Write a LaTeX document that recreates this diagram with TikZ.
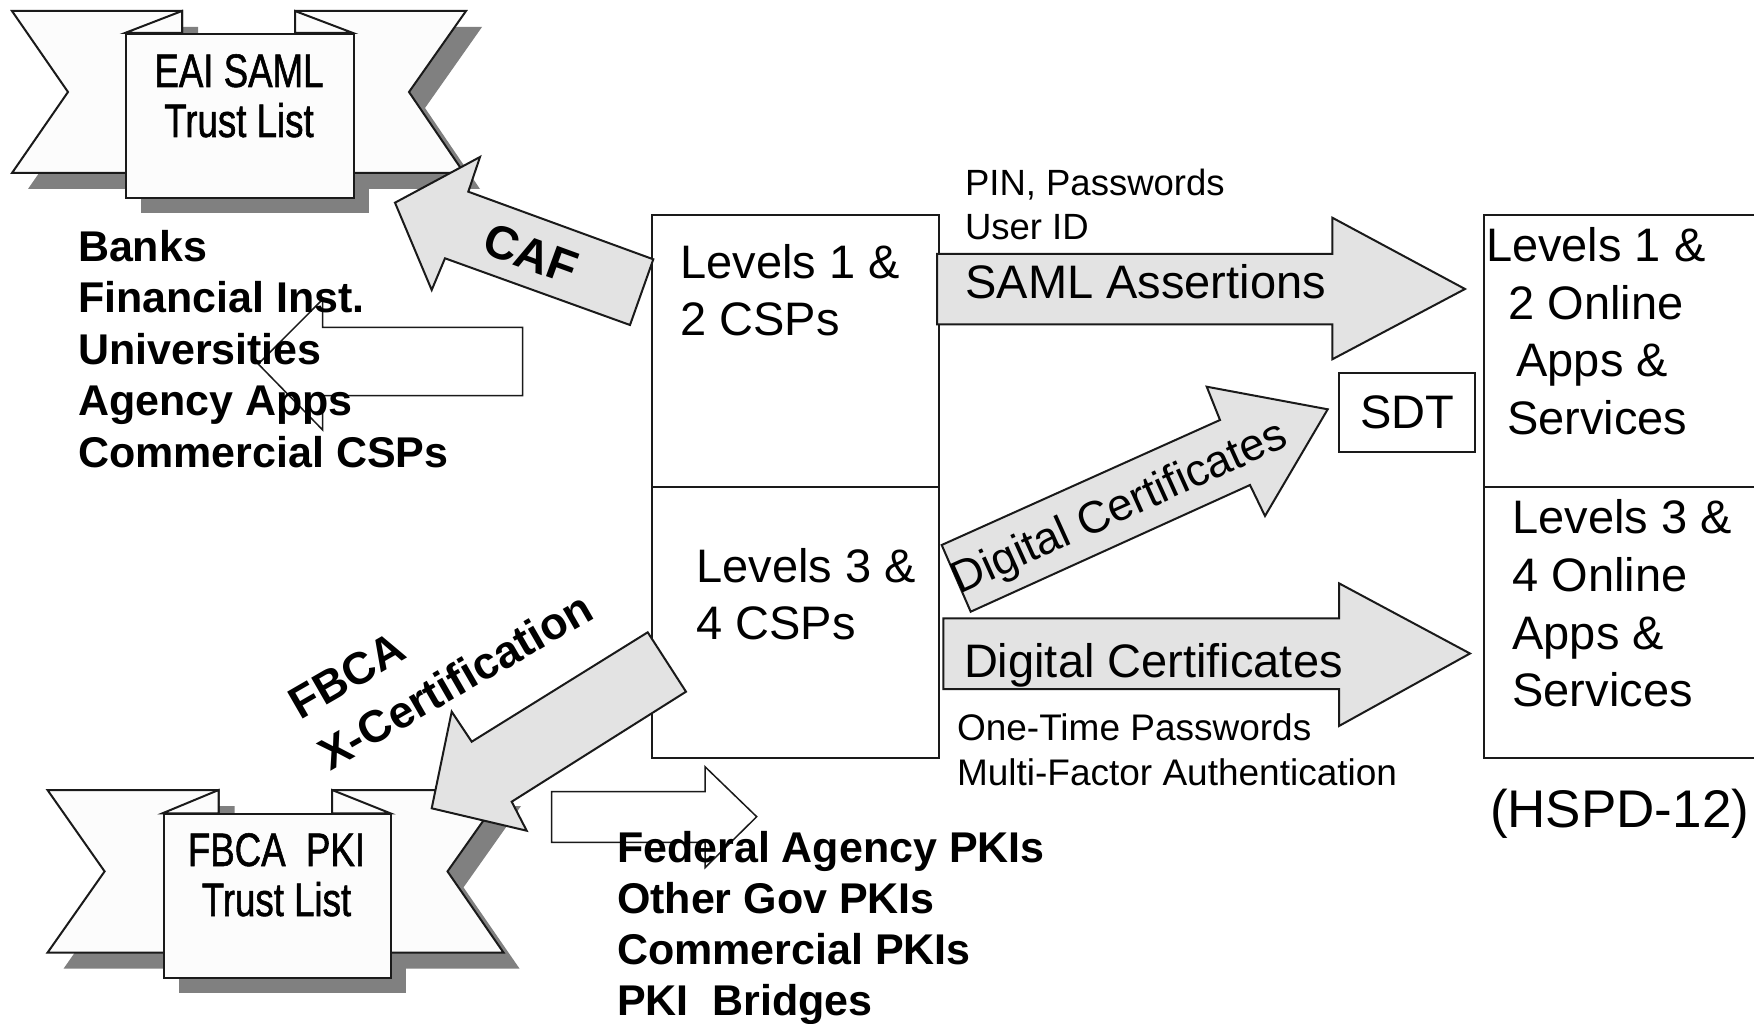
\documentclass[tikz,border=0pt]{standalone}
\usepackage{fontspec}
\setmainfont{Liberation Sans}
\newfontfamily\narrowfont[FakeStretch=0.78,FakeBold=1.2]{Liberation Sans}
\definecolor{arrowfill}{HTML}{E3E3E3}
\definecolor{shadowgray}{HTML}{808080}
\definecolor{ribbonfill}{HTML}{FCFCFC}
\definecolor{inkline}{HTML}{1A1A1A}
% multi-line label whose baseline is the baseline of its first line
\newcommand{\linestack}[2][l]{\begin{tabular}[t]{@{}#1@{}}#2\end{tabular}}
\newcommand{\sizept}[2]{\fontsize{#1}{#2}\selectfont}
\tikzset{
  txt/.style={inner sep=0pt, outer sep=0pt},
  cell/.style={draw=inkline, line width=2pt, inner sep=0pt, anchor=north west},
  block/.style={draw=inkline, line width=2pt, fill=arrowfill, line join=miter},
  hollow/.style={draw=inkline, line width=1.5pt, fill=white, line join=miter},
  band/.style={draw=inkline, line width=2pt, fill=ribbonfill, line join=miter},
  drop/.style={fill=shadowgray, draw=none},
}
\begin{document}
\begin{tikzpicture}[x=1pt,y=-1pt]
\useasboundingbox (0,0) rectangle (1754,1024);
\clip (0,0) rectangle (1754,1024);
\fill[white] (0,0) rectangle (1754,1024);

% ---------- EAI SAML ribbon ----------
\begin{scope}[shift={(16,16)}]
  \fill[drop] (12,11) -- (182,11) -- (182,173) -- (12,173) -- (68,92) -- cycle;
  \fill[drop] (295,11) -- (466,11) -- (409,92) -- (464,173) -- (295,173) -- cycle;
  \fill[drop] (125,33) rectangle (353,197);
\end{scope}
\draw[band] (12,11) -- (182,11) -- (182,173) -- (12,173) -- (68,92) -- cycle;
\draw[band] (295,11) -- (466,11) -- (409,92) -- (464,173) -- (295,173) -- cycle;
\draw[band] (182,11) -- (125,33) -- (182,33) -- cycle;
\draw[band] (295,11) -- (353,33) -- (295,33) -- cycle;
\node[cell, fill=ribbonfill, minimum width=228, minimum height=164] (eaiPanel) at (125,33) {};
\node[txt, anchor=base, font=\narrowfont\sizept{47}{50}] (eaiText) at (239,87)
  {\linestack[c]{EAI SAML\\Trust List}};

% ---------- FBCA PKI ribbon ----------
\begin{scope}[shift={(16,16)}]
  \fill[drop] (47.5,790) -- (218.6,790) -- (218.6,952.7) -- (47.5,952.7) -- (104.6,871.4) -- cycle;
  \fill[drop] (332.1,790) -- (505,790) -- (447.5,871.4) -- (503.6,952.7) -- (332.1,952.7) -- cycle;
  \fill[drop] (162.5,813.3) rectangle (390.4,977.3);
\end{scope}
\draw[band] (47.5,790) -- (218.6,790) -- (218.6,952.7) -- (47.5,952.7) -- (104.6,871.4) -- cycle;
\draw[band] (332.1,790) -- (505,790) -- (447.5,871.4) -- (503.6,952.7) -- (332.1,952.7) -- cycle;
\draw[band] (218.6,790) -- (162.5,813.3) -- (218.6,813.3) -- cycle;
\draw[band] (332.1,790) -- (390.4,813.3) -- (332.1,813.3) -- cycle;
\node[cell, fill=ribbonfill, minimum width=227.9, minimum height=164] (pkiPanel) at (162.5,813.3) {};
\node[txt, anchor=base, font=\narrowfont\sizept{47}{50}] (pkiText) at (276.5,866)
  {\linestack[c]{FBCA\ \ PKI\\Trust List}};

% ---------- hollow arrows beside the lists ----------
\draw[hollow] (522.7,327.3) -- (322.7,327.3) -- (322.7,299.3) -- (258.3,364) -- (322.7,430)
  -- (322.7,395.7) -- (522.7,395.7) -- cycle;
\draw[hollow] (551.7,791.7) -- (705,791.7) -- (705,766.7) -- (756.7,816.7) -- (705,867.7)
  -- (705,842.3) -- (551.7,842.3) -- cycle;

% ---------- credential service provider boxes ----------
\node[cell, minimum width=287.3, minimum height=271.7] (csp12) at (650.7,214) {};
\node[cell, minimum width=287.3, minimum height=271.6] (csp34) at (650.7,485.7) {};

% ---------- relying party boxes ----------
\node[cell, minimum width=290, minimum height=272] (apps12) at (1482.7,214) {};
\node[cell, minimum width=290, minimum height=271.3] (apps34) at (1482.7,486) {};
\node[draw=inkline, line width=2pt, minimum width=136, minimum height=79, inner sep=0pt,
      font=\sizept{47}{57}] (sdt) at (1407,412.8) {SDT};

% ---------- block arrows ----------
\draw[block] (395,202.7) -- (480,157) -- (468.3,191.7) -- (653.3,259.3) -- (630,325)
  -- (445,258.3) -- (431.7,290) -- cycle;
\draw[block] (647.7,632.3) -- (686,691.7) -- (511.7,801.7) -- (526.7,830.7) -- (431.7,808.3)
  -- (451.7,711.7) -- (471.7,741.7) -- cycle;
\draw[block] (937,254) -- (1332.3,254) -- (1332.3,217.7) -- (1465,289) -- (1332.3,359.3)
  -- (1332.3,324.5) -- (937,324.5) -- cycle;
\draw[block] (941.7,545) -- (1220,420) -- (1206.7,386.7) -- (1327.7,409.3) -- (1265,516)
  -- (1250,485) -- (970.7,611.7) -- cycle;
\draw[block] (943.3,618.3) -- (1339,618.3) -- (1339,583.3) -- (1470,653.5) -- (1339,726)
  -- (1339,689) -- (943.3,689) -- cycle;

% ---------- labels ----------
\node[txt, anchor=base west, font=\bfseries\sizept{43}{51.5}] (orgList) at (78,261.5)
  {\linestack{Banks\\Financial Inst.\\Universities\\Agency Apps\\Commercial CSPs}};
\node[txt, anchor=base west, font=\bfseries\sizept{43}{51}] (pkiList) at (617,862)
  {\linestack{Federal Agency PKIs\\Other Gov PKIs\\Commercial PKIs\\PKI\ \ Bridges}};

\node[txt, anchor=center, rotate=-20, font=\bfseries\sizept{47}{57}] (caf) at (531,254) {CAF};
\node[txt, anchor=base west, rotate=30, font=\bfseries\sizept{45}{59}] (xcert) at (300.5,720)
  {\linestack{FBCA\\X-Certification}};

\node[txt, anchor=base west, font=\sizept{47}{57.5}] (csp12Text) at (680.5,278.5)
  {\linestack{Levels 1 \&\\2 CSPs}};
\node[txt, anchor=base west, font=\sizept{47}{57.5}] (csp34Text) at (696.5,582)
  {\linestack{Levels 3 \&\\4 CSPs}};

\node[txt, anchor=base west, font=\sizept{36.5}{44.6}] (pinText) at (965,195.4)
  {\linestack{PIN, Passwords\\User ID}};
\node[txt, anchor=base west, font=\sizept{47}{57}] (samlText) at (965.5,299) {SAML Assertions};
\node[txt, anchor=base, rotate=24.3, font=\sizept{45}{57}] (diagText) at (1125,520) {Digital Certificates};
\node[txt, anchor=base west, font=\sizept{47}{57}] (certText) at (964,677) {Digital Certificates};
\node[txt, anchor=base west, font=\sizept{37}{44.7}] (otpText) at (957,740.3)
  {\linestack{One-Time Passwords\\Multi-Factor Authentication}};

\node[txt, anchor=base west, font=\sizept{47}{57}] (apps12a) at (1486,262) {Levels 1 \&};
\node[txt, anchor=base west, font=\sizept{47}{57}] (apps12b) at (1508.5,319.5) {2 Online};
\node[txt, anchor=base west, font=\sizept{47}{57}] (apps12c) at (1516.5,377) {Apps \&};
\node[txt, anchor=base west, font=\sizept{47}{57}] (apps12d) at (1507,434) {Services};
\node[txt, anchor=base west, font=\sizept{47}{57.8}] (apps34Text) at (1512.5,533.5)
  {\linestack{Levels 3 \&\\4 Online\\Apps \&\\Services}};
\node[txt, anchor=base west, font=\sizept{53}{60}] (hspd) at (1490,827) {(HSPD-12)};
\end{tikzpicture}
\end{document}
